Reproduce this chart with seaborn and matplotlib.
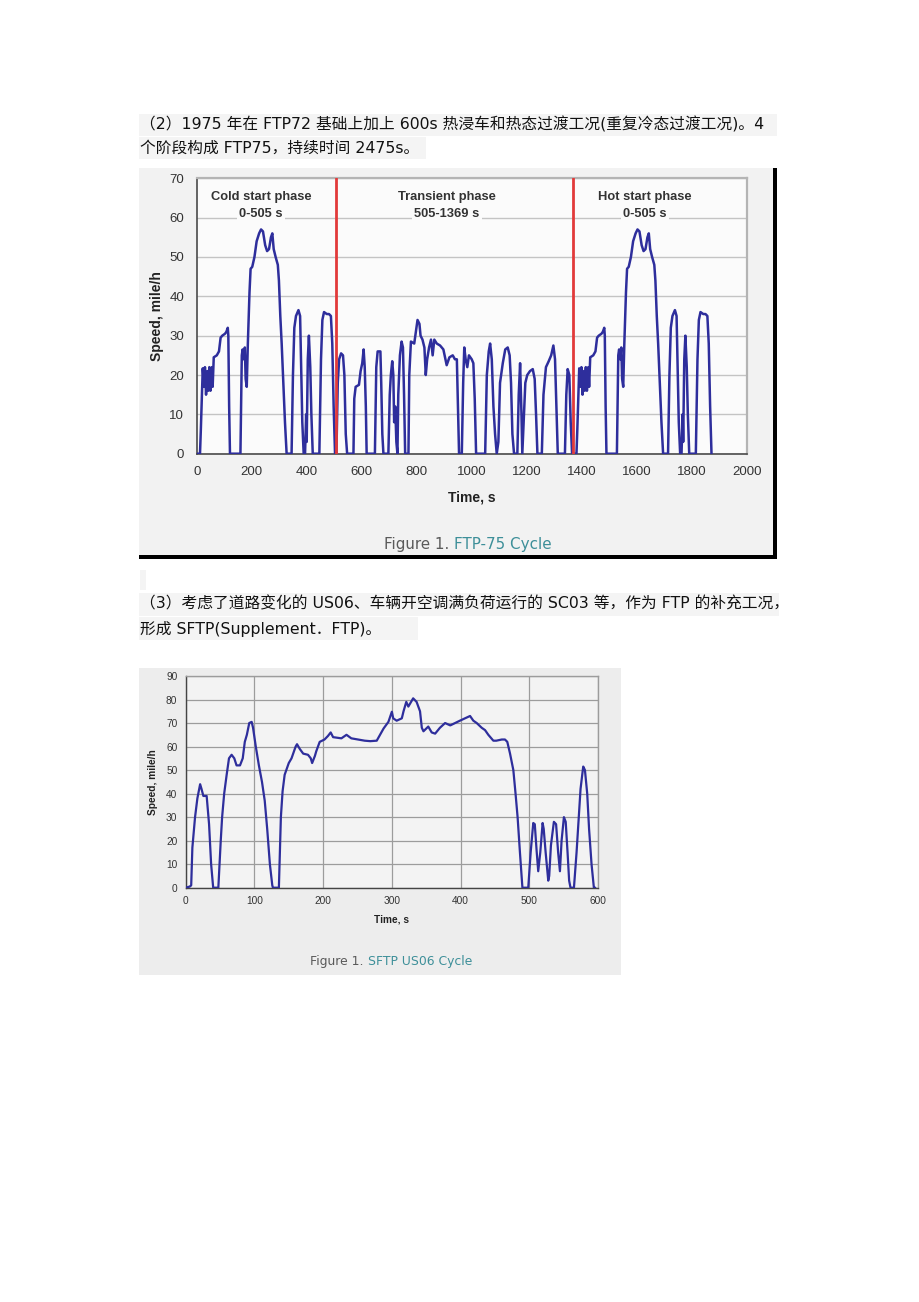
import matplotlib
matplotlib.use("Agg")
import matplotlib.pyplot as plt
import seaborn as sns
import pandas as pd
from matplotlib.patches import Rectangle

sns.set_theme(style="white")
plt.rcParams['font.family'] = ['DejaVu Sans', 'Noto Sans CJK SC']

# ---------------- data ----------------
# FTP-75: cold start phase (0-505 s)
cold_t = [0, 12, 15, 22, 27, 30, 34, 39, 42, 46,
          50, 55, 58, 62, 73, 81, 87, 93, 103, 108,
          113, 115, 118, 121, 159, 164, 167, 171, 175, 178,
          182, 186, 192, 196, 202, 210, 218, 227, 234, 241,
          249, 256, 263, 270, 275, 280, 287, 295, 299, 304,
          309, 315, 321, 327, 345, 350, 355, 361, 370, 376,
          379, 384, 389, 394, 398, 400, 404, 408, 413, 417,
          422, 446, 452, 457, 463, 473, 481, 488, 493, 498,
          503]
cold_v = [0, 0, 6, 21.7, 17, 22, 15, 21, 16, 22,
          16, 22, 17, 24.5, 25, 26, 29.5, 30, 30.5, 31,
          32, 30, 12, 0, 0, 25, 26.5, 24, 27, 19,
          17, 28, 41, 47, 47.5, 50, 54, 56, 57, 56.5,
          53, 51.5, 52, 55, 56, 52, 50, 48, 44, 35,
          28, 18, 8, 0, 0, 20, 32, 35, 36.5, 35,
          25, 8, 0, 0, 10, 3, 24, 30, 22, 10,
          0, 0, 24, 34, 36, 35.5, 35.5, 35, 28, 12,
          0]
# FTP-75: transient phase (505-1369 s)
trans_t = [508, 513, 518, 525, 532, 537, 542, 547, 570, 573,
           578, 590, 596, 602, 607, 611, 615, 618, 648, 653,
           658, 668, 671, 675, 679, 697, 702, 706, 711, 715,
           718, 722, 726, 730, 733, 739, 745, 750, 754, 758,
           770, 773, 779, 791, 797, 803, 810, 814, 821, 828,
           833, 838, 845, 852, 858, 864, 873, 885, 897, 909,
           919, 931, 939, 946, 950, 954, 964, 969, 973, 978,
           984, 990, 1000, 1006, 1011, 1016, 1049, 1055, 1062, 1067,
           1073, 1079, 1085, 1091, 1097, 1103, 1113, 1122, 1131, 1138,
           1143, 1148, 1154, 1166, 1171, 1176, 1181, 1184, 1189, 1195,
           1202, 1212, 1222, 1229, 1234, 1239, 1255, 1261, 1270, 1280,
           1289, 1297, 1303, 1308, 1313, 1339, 1344, 1349, 1355, 1360,
           1365, 1369]
trans_v = [0, 18, 24, 25.5, 25, 20, 5, 0, 0, 14,
           17, 17.5, 21, 23, 26.5, 22, 12, 0, 0, 22,
           26, 26, 18, 5, 0, 0, 15, 20, 23.5, 20,
           8, 12, 3, 0, 15, 25, 28.5, 27, 15, 0,
           0, 20, 28.5, 28, 31, 34, 33, 30, 29, 27,
           20, 24, 27, 29, 25, 29, 28, 27.5, 26.5, 22.5,
           24.5, 25, 24, 24, 12, 0, 0, 18, 27, 24,
           22, 25, 24, 23, 14, 0, 0, 20, 26, 28,
           24, 12, 5, 0, 3, 18, 23, 26.5, 27, 25,
           18, 5, 0, 0, 15, 23, 10, 0, 8, 18,
           20, 21, 21.5, 19, 10, 0, 0, 15, 22, 23.5,
           25, 27.5, 24, 12, 0, 0, 15, 21.5, 20, 8,
           0, 0]
# FTP-75: hot start phase (repeat of cold start, from 1369 s)
hot_t = [1369, 1381, 1384, 1391, 1396, 1399, 1403, 1408, 1411, 1415,
         1419, 1424, 1427, 1431, 1442, 1450, 1456, 1462, 1472, 1477,
         1482, 1484, 1487, 1490, 1528, 1533, 1536, 1540, 1544, 1547,
         1551, 1555, 1561, 1565, 1571, 1579, 1587, 1596, 1603, 1610,
         1618, 1625, 1632, 1639, 1644, 1649, 1656, 1664, 1668, 1673,
         1678, 1684, 1690, 1696, 1714, 1719, 1724, 1730, 1739, 1745,
         1748, 1753, 1758, 1763, 1767, 1769, 1773, 1777, 1782, 1786,
         1791, 1815, 1821, 1826, 1832, 1842, 1850, 1857, 1862, 1867,
         1872]
hot_v = [0, 0, 6, 21.7, 17, 22, 15, 21, 16, 22,
         16, 22, 17, 24.5, 25, 26, 29.5, 30, 30.5, 31,
         32, 30, 12, 0, 0, 25, 26.5, 24, 27, 19,
         17, 28, 41, 47, 47.5, 50, 54, 56, 57, 56.5,
         53, 51.5, 52, 55, 56, 52, 50, 48, 44, 35,
         28, 18, 8, 0, 0, 20, 32, 35, 36.5, 35,
         25, 8, 0, 0, 10, 3, 24, 30, 22, 10,
         0, 0, 24, 34, 36, 35.5, 35.5, 35, 28, 12,
         0]
phase_lines = [505, 1369]
phase_names = ["Cold start phase\n0-505 s", "Transient phase\n505-1369 s", "Hot start phase\n0-505 s"]
phase_label_x = [234, 910, 1630]
ftp_xticks = list(range(0, 2001, 200))
ftp_yticks = list(range(0, 71, 10))

# SFTP US06
us06_t = [0, 6, 8, 9.7, 13.6, 17, 21, 23, 25.7, 30.5,
          34, 37, 40, 47.5, 51, 53, 56, 59.6, 63, 66.8,
          70.7, 74, 79, 83, 86, 89, 92.5, 96, 98, 102,
          106.5, 111, 115, 118.6, 122.5, 126, 127, 135.6, 137, 138.5,
          141, 144, 150, 154, 160, 162, 166, 171, 178, 182,
          184, 188, 190, 195, 202, 207, 211, 214.5, 226.6, 234,
          241, 251, 260.5, 268.5, 278, 288, 295, 300, 302, 307,
          314.5, 317, 321, 324, 331, 336, 341, 343.6, 346, 353,
          358, 363, 370, 377.5, 385, 392, 399, 406.5, 413.8, 418.6,
          423.5, 430.7, 435.6, 440.4, 447.7, 452, 460, 464.6, 468, 472,
          476.8, 480, 483, 486.4, 490, 498.5, 502, 505.8, 508, 510.6,
          513, 516, 519.4, 521, 523.8, 527.6, 529, 531.5, 535.8, 539,
          542, 544.6, 547, 550.4, 553, 555.7, 558, 560, 565, 568.8,
          572, 574.6, 578.5, 581, 584.3, 587, 590.6, 594, 596]
us06_v = [0, 0.5, 1, 17, 30, 38, 44, 42, 39, 39,
          27, 10, 0, 0, 20, 30, 40, 48, 55, 56.5,
          55, 52, 52, 55, 62, 65, 70, 70.5, 68, 60,
          52, 45, 37, 25, 10, 1, 0, 0, 15, 30,
          41, 48, 53, 55, 60, 61, 59, 57, 56.5, 55,
          53, 56, 58, 62, 63, 64.5, 66, 64, 63.5, 65,
          63.5, 63, 62.5, 62.3, 62.5, 67.7, 70.5, 74.8, 72, 71,
          72, 75, 79, 77, 80.5, 79, 75, 68, 66.5, 68.5,
          66, 65.5, 68, 70, 69, 70, 71, 72, 73, 71,
          70, 68, 67, 65, 62.5, 62.5, 63, 63, 62, 57,
          50, 40, 30, 15, 0, 0, 15, 27.5, 27, 16,
          7, 15, 27.5, 25, 15, 3, 5, 18, 28, 27,
          15, 7, 20, 30, 28, 15, 3, 0, 0, 15,
          30, 42, 51.5, 50, 40, 25, 10, 0, 0]
us06_xticks = list(range(0, 601, 100))
us06_yticks = list(range(0, 91, 10))

text_lines = [
    "（2）1975 年在 FTP72 基础上加上 600s 热浸车和热态过渡工况(重复冷态过渡工况)。4",
    "个阶段构成 FTP75，持续时间 2475s。",
    "（3）考虑了道路变化的 US06、车辆开空调满负荷运行的 SC03 等，作为 FTP 的补充工况，",
    "形成 SFTP(Supplement．FTP)。",
]

# ---------------- layout helpers ----------------
W, H = 920, 1302
fig = plt.figure(figsize=(W / 100, H / 100), dpi=100)
fig.patch.set_facecolor('white')


def fx(x):
    return x / W


def fy(y):
    return 1 - y / H


def rect(x0, y0, x1, y1, color, z=0):
    fig.add_artist(Rectangle((fx(x0), fy(y1)), (x1 - x0) / W, (y1 - y0) / H,
                             transform=fig.transFigure, facecolor=color,
                             edgecolor='none', zorder=z))


CHART_FONT = ['Liberation Sans', 'DejaVu Sans']
LINE_BLUE = '#2e2e9c'

# text highlight boxes
rect(139, 114, 777, 136, '#f4f4f4')
rect(139, 137, 426, 159, '#f4f4f4')
rect(140, 570, 146, 590, '#f4f4f4')
rect(139, 593, 779, 616, '#f4f4f4')
rect(139, 617, 418, 640, '#f4f4f4')

text_y = [124, 148, 604, 629]
for s, y in zip(text_lines, text_y):
    fig.text(fx(140), fy(y), s, fontsize=11.3, va='center', ha='left',
             color='#111111', family=['DejaVu Sans', 'Noto Sans CJK SC'])

# ---------------- FTP-75 chart ----------------
rect(139, 168, 776, 558, '#f2f2f2')
rect(773, 168, 777, 558, '#000000', z=1)
rect(139, 555, 777, 559, '#000000', z=1)

ax1 = fig.add_axes([fx(196.7), fy(453.7), (746.7 - 196.7) / W, (453.7 - 178.3) / H])
ax1.set_facecolor('#fbfbfb')
ftp_df = pd.DataFrame({"Time, s": cold_t + trans_t + hot_t,
                       "Speed, mile/h": cold_v + trans_v + hot_v})
sns.lineplot(data=ftp_df, x="Time, s", y="Speed, mile/h", sort=False,
             estimator=None, color=LINE_BLUE, lw=1.8, ax=ax1, zorder=3)
for xl in phase_lines:
    ax1.axvline(xl, color='#e23a3a', lw=2.0, zorder=4)
ax1.set_xlim(0, 2000)
ax1.set_ylim(0, 70)
ax1.set_xticks(ftp_xticks)
ax1.set_yticks(ftp_yticks)
ax1.yaxis.grid(True, color='#c4c4c4', lw=1.0)
ax1.xaxis.grid(False)
ax1.set_axisbelow(True)
for side in ['top', 'right']:
    ax1.spines[side].set_color('#b4b4b4')
    ax1.spines[side].set_linewidth(1.6)
for side in ['left', 'bottom']:
    ax1.spines[side].set_color('#4a4a4a')
    ax1.spines[side].set_linewidth(1.2)
ax1.tick_params(axis='both', direction='out', length=4, width=1, color='#4a4a4a',
                labelsize=9.5, labelcolor='#333333', pad=5)
for lab in ax1.get_xticklabels() + ax1.get_yticklabels():
    lab.set_family(CHART_FONT)
ax1.set_xlabel("Time, s", fontsize=10, fontweight='bold', family=CHART_FONT,
               color='#222222', labelpad=9)
ax1.set_ylabel("Speed, mile/h", fontsize=10, fontweight='bold', family=CHART_FONT,
               color='#222222', labelpad=4)
for name, xp in zip(phase_names, phase_label_x):
    l1, l2 = name.split("\n")
    ax1.text(xp, 65.2, l1, ha='center', va='center', fontsize=9.3, fontweight='bold',
             family=CHART_FONT, color='#333333', zorder=5,
             bbox=dict(facecolor='#fbfbfb', edgecolor='none', pad=1))
    ax1.text(xp, 60.9, l2, ha='center', va='center', fontsize=9.3, fontweight='bold',
             family=CHART_FONT, color='#333333', zorder=5,
             bbox=dict(facecolor='#fbfbfb', edgecolor='none', pad=1.5))

fig.text(fx(449), fy(544), "Figure 1.", ha='right', va='center', fontsize=10.9,
         color='#5a5a5a', family=['DejaVu Sans'])
fig.text(fx(454), fy(544), "FTP-75 Cycle", ha='left', va='center', fontsize=10.9,
         color='#3d8f99', family=['DejaVu Sans'])

# ---------------- US06 chart ----------------
rect(139, 668, 621, 975, '#ededed')
ax2 = fig.add_axes([fx(185.7), fy(887.7), (598 - 185.7) / W, (887.7 - 676) / H])
ax2.set_facecolor('#f3f3f3')
us_df = pd.DataFrame({"Time, s": us06_t, "Speed, mile/h": us06_v})
sns.lineplot(data=us_df, x="Time, s", y="Speed, mile/h", sort=False,
             estimator=None, color=LINE_BLUE, lw=1.6, ax=ax2, zorder=3)
ax2.set_xlim(0, 600)
ax2.set_ylim(0, 90)
ax2.set_xticks(us06_xticks)
ax2.set_yticks(us06_yticks)
ax2.grid(True, color='#9c9c9c', lw=0.9)
ax2.set_axisbelow(True)
for side in ['top', 'right']:
    ax2.spines[side].set_color('#9c9c9c')
    ax2.spines[side].set_linewidth(1.0)
for side in ['left', 'bottom']:
    ax2.spines[side].set_color('#444444')
    ax2.spines[side].set_linewidth(1.0)
ax2.tick_params(axis='both', direction='out', length=3, width=0.9, color='#444444',
                labelsize=7.3, labelcolor='#333333', pad=3)
for lab in ax2.get_xticklabels() + ax2.get_yticklabels():
    lab.set_family(CHART_FONT)
ax2.set_xlabel("Time, s", fontsize=7.3, fontweight='bold', family=CHART_FONT,
               color='#222222', labelpad=6)
ax2.set_ylabel("Speed, mile/h", fontsize=7.3, fontweight='bold', family=CHART_FONT,
               color='#222222', labelpad=6)

fig.text(fx(364), fy(961), "Figure 1.", ha='right', va='center', fontsize=8.9,
         color='#5a5a5a', family=['DejaVu Sans'])
fig.text(fx(368), fy(961), "SFTP US06 Cycle", ha='left', va='center', fontsize=8.9,
         color='#3d8f99', family=['DejaVu Sans'])

fig.savefig("out.png", dpi=100, facecolor='white')
